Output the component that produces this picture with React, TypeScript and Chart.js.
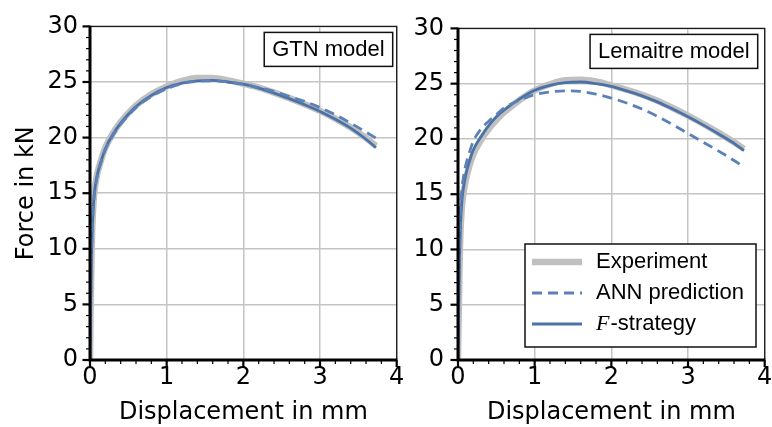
import { useEffect, useRef } from 'react';
import { Chart, registerables } from 'chart.js';

Chart.register(...registerables);

// ---------------- data ----------------
const DISPLACEMENT = [0, 0.01, 0.02, 0.03, 0.05, 0.07, 0.1, 0.15, 0.2, 0.3, 0.4, 0.5, 0.6, 0.8, 1.0, 1.2, 1.4, 1.6, 1.8, 2.0, 2.2, 2.4, 2.6, 2.8, 3.0, 3.2, 3.4, 3.6, 3.73];

const GTN_EXPERIMENT = [0, 5.5, 9.5, 12, 14.6, 15.8, 16.9, 18.1, 19.1, 20.4, 21.4, 22.2, 22.9, 23.9, 24.6, 25.1, 25.35, 25.35, 25.15, 24.85, 24.5, 24.05, 23.55, 23.0, 22.4, 21.7, 20.9, 19.95, 19.25];
const GTN_ANN = [0, 5.2, 9.2, 11.8, 14.3, 15.5, 16.7, 17.9, 18.9, 20.2, 21.2, 22.0, 22.7, 23.7, 24.4, 24.85, 25.05, 25.1, 25.0, 24.8, 24.5, 24.15, 23.7, 23.25, 22.7, 22.05, 21.3, 20.5, 19.95];
const GTN_F_STRATEGY = [0, 5.5, 9.5, 12, 14.5, 15.7, 16.8, 18.0, 19.0, 20.3, 21.3, 22.1, 22.8, 23.8, 24.5, 24.9, 25.1, 25.15, 25.0, 24.8, 24.45, 24.0, 23.5, 22.95, 22.35, 21.65, 20.85, 19.85, 19.1];

const LEM_EXPERIMENT = [0, 4.5, 8.5, 11.2, 13.8, 15.0, 16.2, 17.6, 18.6, 19.9, 20.9, 21.7, 22.4, 23.5, 24.4, 24.95, 25.3, 25.35, 25.2, 24.85, 24.45, 24.0, 23.45, 22.8, 22.1, 21.35, 20.55, 19.7, 19.1];
const LEM_ANN = [0, 6.5, 10.5, 13.2, 15.4, 16.5, 17.6, 18.8, 19.8, 20.9, 21.6, 22.2, 22.8, 23.5, 24.0, 24.25, 24.35, 24.3, 24.05, 23.7, 23.25, 22.7, 22.05, 21.3, 20.5, 19.7, 18.9, 18.05, 17.45];
const LEM_F_STRATEGY = [0, 5, 9, 11.8, 14.3, 15.5, 16.7, 18.0, 19.0, 20.2, 21.2, 22.0, 22.6, 23.6, 24.4, 24.85, 25.1, 25.15, 25.0, 24.75, 24.35, 23.9, 23.35, 22.7, 22.0, 21.25, 20.45, 19.6, 18.95];

const SERIES_LABELS = ['Experiment', 'ANN prediction', 'F-strategy'];
const PANEL_TITLES = ['GTN model', 'Lemaitre model'];
const X_TITLE = 'Displacement in mm';
const Y_TITLE = 'Force in kN';
const X_RANGE = [0, 4];
const Y_RANGE = [0, 30];
const X_STEPS = [1, 0.2]; // major, minor
const Y_STEPS = [5, 1];

// ---------------- styles ----------------
const GRAY = '#c0c0c0';
const BLUE_SOLID = '#4b72a7';
const BLUE_DASH = '#5b82b6';
const AXIS_FONT = 'DejaVu Sans';
const BOX_FONT = 'Liberation Sans';

function pts(xs: number[], ys: number[]) {
  return xs.map((x, i) => ({ x, y: ys[i] }));
}

function makeDatasets(exp: number[], ann: number[], fs: number[]) {
  return [
    {
      label: SERIES_LABELS[0],
      data: pts(DISPLACEMENT, exp),
      borderColor: GRAY,
      borderWidth: 6.5,
      pointRadius: 0,
      cubicInterpolationMode: 'monotone' as const,
      order: 3,
      borderCapStyle: 'butt' as const,
    },
    {
      label: SERIES_LABELS[1],
      data: pts(DISPLACEMENT, ann),
      borderColor: BLUE_DASH,
      borderWidth: 2.8,
      borderDash: [10, 6],
      pointRadius: 0,
      cubicInterpolationMode: 'monotone' as const,
      order: 1,
    },
    {
      label: SERIES_LABELS[2],
      data: pts(DISPLACEMENT, fs),
      borderColor: BLUE_SOLID,
      borderWidth: 2.8,
      pointRadius: 0,
      cubicInterpolationMode: 'monotone' as const,
      order: 2,
    },
  ];
}

function decorPlugin(title: string, titleInset: number, showLegend: boolean) {
  return {
    id: 'decor',
    afterDraw(chart: any) {
      const { ctx, chartArea: a, scales } = chart;
      const xs = scales.x;
      const ys = scales.y;
      ctx.save();
      ctx.strokeStyle = '#000';
      // y ticks
      const ny = Math.round((Y_RANGE[1] - Y_RANGE[0]) / Y_STEPS[1]);
      for (let i = 0; i <= ny; i++) {
        const v = Y_RANGE[0] + i * Y_STEPS[1];
        const major = Math.abs(v / Y_STEPS[0] - Math.round(v / Y_STEPS[0])) < 1e-6;
        const py = ys.getPixelForValue(v);
        ctx.lineWidth = major ? 2.2 : 1.2;
        const len = major ? 7.5 : 4;
        ctx.beginPath();
        ctx.moveTo(a.left - len, py);
        ctx.lineTo(a.left, py);
        ctx.stroke();
      }
      // x ticks
      const nx = Math.round((X_RANGE[1] - X_RANGE[0]) / X_STEPS[1]);
      for (let i = 0; i <= nx; i++) {
        const v = X_RANGE[0] + i * X_STEPS[1];
        const major = Math.abs(v / X_STEPS[0] - Math.round(v / X_STEPS[0])) < 1e-6;
        const px = xs.getPixelForValue(v);
        ctx.lineWidth = major ? 2.2 : 1.2;
        const len = major ? 7 : 4;
        ctx.beginPath();
        ctx.moveTo(px, a.bottom);
        ctx.lineTo(px, a.bottom + len);
        ctx.stroke();
      }
      // thin top/right frame
      ctx.lineWidth = 1.3;
      ctx.strokeStyle = '#1a1a1a';
      ctx.beginPath();
      ctx.moveTo(a.left, a.top);
      ctx.lineTo(a.right, a.top);
      ctx.lineTo(a.right, a.bottom);
      ctx.stroke();
      // thick left/bottom spines
      ctx.lineWidth = 3;
      ctx.strokeStyle = '#000';
      ctx.beginPath();
      ctx.moveTo(a.left, a.top - 0.6);
      ctx.lineTo(a.left, a.bottom);
      ctx.lineTo(a.right + 0.6, a.bottom);
      ctx.stroke();

      // title box
      ctx.font = `22px "${BOX_FONT}"`;
      const tw = ctx.measureText(title).width;
      const bw = tw + 16;
      const bh = 34;
      const bx = a.right - titleInset - bw;
      const by = a.top + 6;
      ctx.fillStyle = '#fff';
      ctx.fillRect(bx, by, bw, bh);
      ctx.lineWidth = 1.5;
      ctx.strokeStyle = '#111';
      ctx.strokeRect(bx, by, bw, bh);
      ctx.fillStyle = '#000';
      ctx.textAlign = 'center';
      ctx.textBaseline = 'middle';
      ctx.fillText(title, bx + bw / 2, by + bh / 2 + 1);

      if (showLegend) {
        const lw = 231;
        const lh = 103;
        const lx = a.right - 8.7 - lw;
        const ly = a.bottom - 13 - lh;
        ctx.fillStyle = '#fff';
        ctx.fillRect(lx, ly, lw, lh);
        ctx.lineWidth = 1.5;
        ctx.strokeStyle = '#111';
        ctx.strokeRect(lx, ly, lw, lh);
        const rows = [18, 49, 80];
        chart.data.datasets.forEach((ds: any, i: number) => {
          const ry = ly + rows[i];
          ctx.save();
          ctx.strokeStyle = ds.borderColor;
          ctx.lineWidth = ds.borderWidth;
          ctx.setLineDash(ds.borderDash || []);
          ctx.beginPath();
          ctx.moveTo(lx + 7, ry);
          ctx.lineTo(lx + 57, ry);
          ctx.stroke();
          ctx.restore();
          ctx.fillStyle = '#000';
          ctx.textAlign = 'left';
          ctx.textBaseline = 'middle';
          const label: string = ds.label;
          if (label.startsWith('F-')) {
            ctx.font = `italic 22px "Liberation Serif"`;
            ctx.fillText('F', lx + 71, ry);
            const fw = ctx.measureText('F').width;
            ctx.font = `22px "${BOX_FONT}"`;
            ctx.fillText(label.slice(1), lx + 71 + fw + 1, ry);
          } else {
            ctx.font = `22px "${BOX_FONT}"`;
            ctx.fillText(label, lx + 71, ry);
          }
        });
      }
      ctx.restore();
    },
  };
}

type PanelProps = {
  left: number;
  width: number;
  yAxisWidth: number;
  padRight: number;
  tickPad: number;
  title: string;
  titleInset: number;
  showYTitle: boolean;
  showLegend: boolean;
  exp: number[];
  ann: number[];
  fs: number[];
};

function Panel(p: PanelProps) {
  const ref = useRef<HTMLCanvasElement | null>(null);
  useEffect(() => {
    if (!ref.current) return;
    const tickFont = { family: AXIS_FONT, size: 24 };
    const chart = new Chart(ref.current, {
      type: 'line',
      data: { datasets: makeDatasets(p.exp, p.ann, p.fs) as any },
      options: {
        animation: false,
        responsive: false,
        devicePixelRatio: 1,
        layout: { padding: { top: 20, right: p.padRight, left: 0, bottom: 0 } },
        plugins: { legend: { display: false }, tooltip: { enabled: false } },
        scales: {
          x: {
            type: 'linear',
            min: X_RANGE[0],
            max: X_RANGE[1],
            ticks: { stepSize: X_STEPS[0], font: tickFont, color: '#000', padding: 3, maxRotation: 0, autoSkip: false },
            grid: { color: '#c4c4c4', lineWidth: 1.5, drawTicks: false },
            border: { display: false },
            title: { display: true, text: X_TITLE, font: tickFont, color: '#000', padding: { top: 0, bottom: 0 } },
            afterFit: (s: any) => {
              s.height = 67;
            },
          },
          y: {
            type: 'linear',
            min: Y_RANGE[0],
            max: Y_RANGE[1],
            ticks: { stepSize: Y_STEPS[0], font: tickFont, color: '#000', padding: p.tickPad },
            grid: { color: '#c4c4c4', lineWidth: 1.5, drawTicks: false },
            border: { display: false },
            title: { display: p.showYTitle, text: Y_TITLE, font: tickFont, color: '#000', padding: { top: 12.5, bottom: 0 } },
            afterFit: (s: any) => {
              s.width = p.yAxisWidth;
            },
          },
        },
      },
      plugins: [decorPlugin(p.title, p.titleInset, p.showLegend)],
    });
    return () => chart.destroy();
  }, []);
  return (
    <canvas
      ref={ref}
      width={p.width}
      height={427}
      style={{ position: 'absolute', left: p.left, top: 0, width: p.width, height: 427 }}
    />
  );
}

export default function App() {
  return (
    <div style={{ position: 'absolute', left: 0, top: 0, width: 772, height: 427, overflow: 'hidden', background: '#fff' }}>
      <Panel
        left={0}
        width={430}
        yAxisWidth={90}
        padRight={33.3}
        tickPad={12}
        title={PANEL_TITLES[0]}
        titleInset={4}
        showYTitle={true}
        showLegend={false}
        exp={GTN_EXPERIMENT}
        ann={GTN_ANN}
        fs={GTN_F_STRATEGY}
      />
      <Panel
        left={400}
        width={390}
        yAxisWidth={58}
        padRight={25.3}
        tickPad={14}
        title={PANEL_TITLES[1]}
        titleInset={7}
        showYTitle={false}
        showLegend={true}
        exp={LEM_EXPERIMENT}
        ann={LEM_ANN}
        fs={LEM_F_STRATEGY}
      />
    </div>
  );
}
